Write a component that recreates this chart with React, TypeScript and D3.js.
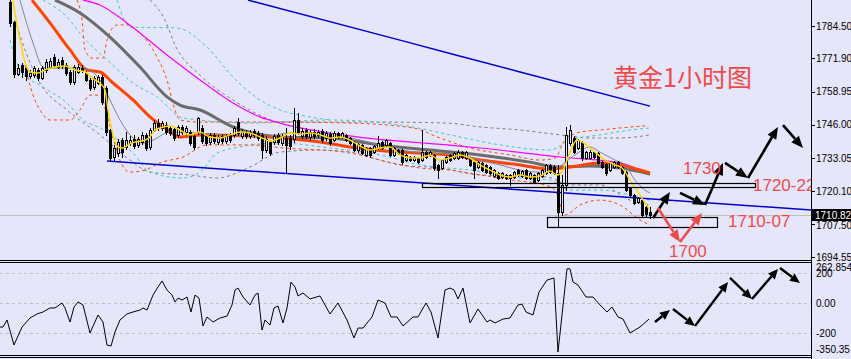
import React from "react";
import * as d3 from "d3";

// ---------- DATA ----------
// OHLC per hourly candle: [open, high, low, close]
const ohlc: [number, number, number, number][] = [
  [1794.0, 1796.0, 1784.5, 1785.7], [1786.0, 1786.5, 1764.5, 1765.7], [1765.7, 1769.7, 1765.4, 1768.0], [1769.3, 1770.1, 1764.6, 1766.6],
  [1768.1, 1769.0, 1763.5, 1765.0], [1765.0, 1767.4, 1764.2, 1766.2], [1765.4, 1769.0, 1764.8, 1768.1], [1767.4, 1768.1, 1763.5, 1764.3],
  [1764.3, 1769.0, 1763.9, 1768.1], [1767.4, 1771.6, 1766.6, 1770.5], [1768.5, 1772.0, 1768.0, 1770.9], [1772.4, 1773.6, 1768.5, 1769.3],
  [1768.5, 1771.6, 1768.0, 1770.5], [1771.3, 1772.4, 1768.1, 1768.9], [1769.3, 1770.1, 1765.4, 1766.2], [1766.6, 1767.4, 1762.0, 1762.7],
  [1762.7, 1769.3, 1762.0, 1768.5], [1766.6, 1769.7, 1766.2, 1768.5], [1768.1, 1769.3, 1766.6, 1767.4], [1766.2, 1767.0, 1763.0, 1763.5],
  [1763.5, 1764.3, 1759.6, 1760.4], [1760.7, 1765.0, 1760.0, 1764.3], [1762.3, 1765.4, 1762.0, 1764.6], [1764.6, 1765.4, 1754.0, 1754.9],
  [1760.4, 1761.0, 1742.0, 1743.2], [1744.0, 1744.5, 1732.3, 1733.1], [1733.5, 1738.0, 1732.5, 1737.0], [1735.0, 1740.5, 1734.0, 1739.3],
  [1740.1, 1741.0, 1733.5, 1735.4], [1737.4, 1743.2, 1736.6, 1740.1], [1738.9, 1741.6, 1738.0, 1740.1], [1740.5, 1742.0, 1737.0, 1737.8],
  [1738.2, 1741.2, 1737.4, 1740.5], [1739.3, 1743.2, 1738.5, 1742.0], [1742.0, 1743.0, 1736.2, 1737.0], [1737.4, 1744.8, 1736.6, 1744.0],
  [1744.0, 1747.9, 1743.6, 1746.7], [1746.7, 1748.3, 1744.0, 1745.0], [1744.8, 1747.5, 1744.0, 1746.7], [1745.9, 1747.1, 1742.4, 1743.2],
  [1744.8, 1745.5, 1742.0, 1742.8], [1744.4, 1745.2, 1740.1, 1740.9], [1742.0, 1746.0, 1741.2, 1745.2], [1745.2, 1746.0, 1742.4, 1743.2],
  [1743.2, 1745.6, 1742.4, 1744.8], [1743.2, 1744.0, 1738.0, 1738.9], [1741.6, 1742.4, 1736.6, 1737.4], [1743.2, 1749.1, 1742.4, 1748.7],
  [1744.8, 1746.0, 1739.0, 1739.7], [1741.6, 1742.4, 1738.0, 1738.9], [1739.3, 1742.8, 1738.5, 1742.0], [1742.0, 1742.8, 1738.9, 1739.7],
  [1739.3, 1742.0, 1738.5, 1741.2], [1741.6, 1742.4, 1739.0, 1739.7], [1739.7, 1742.4, 1739.0, 1741.6], [1742.0, 1743.0, 1739.3, 1740.1],
  [1742.0, 1745.5, 1741.2, 1744.8], [1747.1, 1748.7, 1742.0, 1742.8], [1741.6, 1744.4, 1740.9, 1743.2], [1743.2, 1744.0, 1741.0, 1741.6],
  [1741.6, 1744.0, 1741.0, 1743.2], [1743.6, 1744.4, 1741.2, 1742.0], [1742.8, 1743.6, 1740.1, 1740.9], [1742.0, 1742.8, 1733.1, 1736.2],
  [1736.2, 1741.6, 1735.4, 1740.5], [1739.3, 1740.1, 1734.3, 1735.0], [1739.3, 1742.4, 1738.5, 1741.6], [1742.0, 1742.8, 1738.5, 1739.3],
  [1738.9, 1742.4, 1738.0, 1741.6], [1740.9, 1744.8, 1727.6, 1738.2], [1740.9, 1742.0, 1736.6, 1737.8], [1740.5, 1752.6, 1739.3, 1747.9],
  [1747.9, 1750.6, 1742.4, 1743.2], [1741.6, 1744.8, 1740.9, 1743.6], [1744.0, 1744.8, 1740.9, 1741.6], [1741.2, 1744.0, 1740.1, 1743.2],
  [1743.2, 1744.4, 1740.9, 1741.6], [1742.0, 1744.0, 1741.2, 1743.2], [1743.6, 1744.4, 1739.3, 1740.1], [1740.9, 1743.6, 1740.1, 1742.8],
  [1742.4, 1743.2, 1738.2, 1738.9], [1740.1, 1743.6, 1739.7, 1742.8], [1742.8, 1743.2, 1740.9, 1741.3], [1741.3, 1743.2, 1740.9, 1742.8],
  [1742.1, 1742.5, 1739.7, 1740.1], [1740.9, 1741.3, 1738.6, 1738.9], [1739.3, 1739.7, 1735.8, 1736.2], [1736.2, 1738.9, 1735.4, 1738.6],
  [1738.2, 1738.6, 1734.7, 1735.0], [1734.3, 1737.4, 1733.9, 1737.0], [1737.0, 1737.4, 1733.5, 1734.3], [1735.4, 1738.2, 1735.0, 1737.8],
  [1737.0, 1741.7, 1736.6, 1738.9], [1739.3, 1739.7, 1736.6, 1737.0], [1738.2, 1740.5, 1737.8, 1740.1], [1738.9, 1739.3, 1733.9, 1734.3],
  [1734.3, 1737.4, 1733.9, 1737.0], [1736.2, 1736.6, 1734.7, 1735.0], [1736.2, 1736.6, 1730.8, 1731.5], [1732.3, 1734.7, 1731.9, 1734.3],
  [1733.5, 1733.9, 1731.9, 1732.3], [1732.3, 1733.9, 1731.9, 1733.5], [1733.1, 1733.5, 1731.2, 1731.5], [1732.3, 1744.0, 1731.9, 1735.4],
  [1735.4, 1735.8, 1733.1, 1733.5], [1734.3, 1735.8, 1733.9, 1735.4], [1734.3, 1734.7, 1728.4, 1729.2], [1730.4, 1730.8, 1725.3, 1728.4],
  [1729.2, 1732.7, 1728.8, 1732.3], [1731.5, 1733.9, 1731.2, 1733.5], [1734.3, 1734.7, 1731.9, 1732.3], [1733.1, 1735.4, 1732.7, 1735.0],
  [1733.1, 1736.2, 1732.7, 1735.4], [1735.4, 1735.8, 1733.1, 1733.5], [1733.1, 1735.8, 1732.7, 1735.4], [1733.1, 1733.5, 1730.0, 1730.4],
  [1731.5, 1731.9, 1725.3, 1728.4], [1729.6, 1731.9, 1729.2, 1731.5], [1731.2, 1731.5, 1728.0, 1728.4], [1730.4, 1730.8, 1727.3, 1727.6],
  [1729.6, 1730.0, 1726.9, 1727.3], [1726.1, 1728.8, 1725.7, 1728.4], [1727.3, 1727.6, 1724.9, 1725.3], [1725.7, 1727.6, 1725.3, 1727.3],
  [1726.5, 1726.9, 1724.9, 1725.3], [1725.3, 1726.9, 1722.6, 1726.5], [1725.7, 1728.0, 1725.3, 1727.6], [1728.4, 1728.8, 1726.1, 1726.5],
  [1726.1, 1728.4, 1725.7, 1728.0], [1728.4, 1728.8, 1724.9, 1725.3], [1725.3, 1727.6, 1724.9, 1727.3], [1726.5, 1726.9, 1723.4, 1723.7],
  [1724.5, 1727.6, 1724.1, 1727.3], [1726.1, 1728.8, 1725.7, 1728.4], [1727.3, 1730.8, 1726.9, 1730.4], [1730.4, 1730.8, 1727.3, 1727.6],
  [1729.6, 1730.4, 1726.9, 1727.3], [1727.3, 1730.4, 1706.2, 1712.1], [1712.1, 1726.5, 1710.9, 1722.6], [1722.6, 1745.2, 1720.6, 1742.1],
  [1738.9, 1745.9, 1738.2, 1744.0], [1740.9, 1741.7, 1735.0, 1735.4], [1737.0, 1740.5, 1736.6, 1740.1], [1739.3, 1739.7, 1732.3, 1733.1],
  [1733.1, 1735.8, 1732.7, 1735.4], [1733.1, 1736.2, 1732.7, 1735.4], [1735.4, 1735.8, 1733.1, 1733.5], [1735.0, 1735.4, 1730.8, 1731.2],
  [1731.5, 1731.9, 1729.2, 1729.6], [1730.8, 1731.2, 1726.5, 1727.3], [1728.4, 1731.5, 1728.0, 1731.2], [1729.6, 1731.9, 1729.2, 1731.5],
  [1731.5, 1731.9, 1729.2, 1729.6], [1729.6, 1730.0, 1726.9, 1727.3], [1727.6, 1728.0, 1720.3, 1720.6], [1721.4, 1721.8, 1718.3, 1718.7],
  [1718.7, 1719.1, 1715.2, 1715.6], [1716.0, 1717.9, 1715.6, 1717.5], [1716.7, 1717.1, 1710.5, 1710.9], [1714.0, 1714.4, 1710.5, 1711.3],
  [1712.1, 1714.0, 1709.7, 1710.82],
];

// Moving averages, read as [candle index, price]
const maYellow: [number, number][] = [
  [0.7, 1794.6], [2.5, 1779.0], [3.75, 1770.5], [5, 1766.6], [7, 1766.2], [8.75, 1767.4], [11.25, 1768.5], [13.75, 1768.9],
  [16.25, 1767.4], [18.75, 1766.6], [21.25, 1763.5], [22.5, 1762.3], [23.75, 1759.6], [24.5, 1751.8], [25.75, 1742.1], [27, 1737.4],
  [28.25, 1737.0], [29.5, 1738.2], [31.25, 1739.3], [33.75, 1740.1], [35, 1741.3], [36.25, 1744.0], [37.5, 1744.8], [40, 1745.6],
  [42.5, 1744.0], [45, 1742.1], [47.5, 1743.2], [50, 1741.3], [52.5, 1740.9], [55, 1742.1], [57.5, 1743.2], [60, 1742.8],
  [62.5, 1741.3], [65, 1739.7], [67.5, 1740.9], [70, 1742.8], [72.5, 1742.4], [75, 1742.8], [77.5, 1742.1], [80, 1740.9],
  [82.5, 1741.3], [85, 1740.1], [87.5, 1737.8], [90, 1736.2], [92.5, 1737.0], [95, 1737.4], [97.5, 1734.3], [100, 1733.1],
  [102.5, 1733.1], [105, 1734.3], [107.5, 1732.3], [110, 1733.1], [112.5, 1734.3], [115, 1733.1], [117.5, 1730.4], [120, 1728.4],
  [122.5, 1726.5], [125, 1725.7], [127.5, 1726.5], [130, 1725.7], [132.5, 1726.1], [135, 1728.0], [136.75, 1726.5], [138.25, 1728.4],
  [140, 1735.4], [141.75, 1740.1], [143.75, 1738.6], [146.25, 1735.4], [148.75, 1732.3], [151.25, 1730.4], [153, 1729.2], [155, 1724.5],
  [157, 1719.9], [158.75, 1715.6], [160, 1712.9],
];
const maSlate: [number, number][] = [
  [2.5, 1794.6], [5.75, 1777.9], [8.25, 1768.5], [10, 1768.1], [18.25, 1768.1], [22.5, 1763.5], [25, 1755.7], [27.5, 1747.9],
  [30.75, 1740.9], [33.25, 1738.9], [35.75, 1740.1], [40, 1743.2], [47.5, 1742.8], [57.5, 1741.7], [63, 1741.3], [70, 1742.8],
  [80, 1742.4], [87.5, 1740.1], [97.5, 1736.2], [105, 1735.0], [112.5, 1734.3], [117.5, 1732.3], [122.5, 1730.4], [127.5, 1728.4],
  [132.5, 1727.6], [136.75, 1729.2], [141.25, 1734.3], [145, 1737.4], [147.5, 1735.4], [151.25, 1732.3], [153.75, 1730.4],
  [156.25, 1724.5], [158.75, 1720.6], [160, 1719.5],
];
const maOrange: [number, number][] = [
  [5.5, 1794.6], [10, 1785.7], [15, 1775.2], [19.25, 1767.4], [22.5, 1766.6], [25.75, 1762.3], [30.75, 1755.7], [35, 1749.1],
  [38.75, 1744.8], [42.5, 1741.3], [47.5, 1742.1], [60, 1741.7], [67.5, 1740.9], [77.5, 1739.3], [85, 1737.4], [97.5, 1735.4],
  [110, 1734.3], [117.5, 1732.3], [127.5, 1730.4], [135, 1728.8], [140, 1729.6], [147.5, 1731.2], [152.5, 1730.4], [157.5, 1728.4],
  [160, 1727.3],
];
const maDarkGray: [number, number][] = [
  [11.25, 1794.6], [17.5, 1789.6], [25, 1780.2], [32.5, 1768.5], [39.25, 1756.9], [42.5, 1753.7], [47.5, 1751.8], [55.75, 1745.2],
  [60.75, 1742.8], [67.5, 1741.3], [80, 1740.9], [92.5, 1738.2], [105, 1736.2], [117.5, 1734.3], [130, 1731.5], [136.75, 1729.6],
  [145, 1730.0], [152.5, 1729.2], [160, 1726.9],
];
const maMagenta: [number, number][] = [
  [18.25, 1794.6], [22.5, 1792.7], [29.25, 1785.7], [39.25, 1773.2], [47.5, 1763.5], [55.75, 1754.5], [62.5, 1749.1], [67.5, 1746.7],
  [86.75, 1741.3], [109.25, 1738.2], [117.5, 1737.0], [137.5, 1733.5], [152.5, 1731.2], [160, 1726.5],
];
const maBlue: [number, number][] = [[59.5, 1794.6], [97.5, 1779.0], [127.5, 1766.6], [160, 1753.3]];

// Bollinger-style envelopes (dashed)
const bandOrangeUp: [number, number][] = [
  [16.75, 1794.6], [18, 1786.8], [18.75, 1775.2], [20.5, 1772.0], [23.25, 1772.0], [24.25, 1779.0], [26.75, 1784.9], [29.25, 1784.9],
  [32.5, 1781.8], [36.75, 1772.4], [39.25, 1763.5], [41.25, 1751.8], [42.5, 1747.9], [47.5, 1747.1], [67.5, 1747.1], [85, 1746.7],
  [100.75, 1744.8], [107.5, 1740.9], [115, 1737.0], [125, 1734.3], [132.5, 1732.3], [136.25, 1733.1], [138.75, 1740.1], [142.5, 1743.2],
  [147.5, 1744.0], [152.5, 1744.8], [158.75, 1745.6],
];
const bandOrangeLow: [number, number][] = [
  [3.75, 1769.3], [5.75, 1757.6], [7.5, 1751.8], [10, 1747.9], [15, 1747.9], [17.5, 1751.8], [20, 1757.6], [22.5, 1757.6],
  [24.25, 1749.8], [26.25, 1738.2], [28, 1730.4], [30, 1727.6], [33.75, 1728.4], [37.5, 1731.2], [43.25, 1733.5], [49.25, 1738.2],
  [60, 1738.2], [68.25, 1737.0], [77.5, 1736.2], [85, 1735.4], [92.5, 1732.3], [102.5, 1729.2], [110, 1728.4], [117.5, 1726.5],
  [125.75, 1724.5], [133.75, 1722.6], [136.25, 1720.6], [138.75, 1710.9], [142.5, 1714.8], [147.5, 1716.7], [152.5, 1714.8],
  [157.5, 1709.0], [160, 1707.0],
];
const bandCyanUpA: [number, number][] = [
  [8.25, 1794.6], [14.25, 1788.0], [18.25, 1780.2], [24.25, 1771.3], [30.75, 1762.3], [36.75, 1756.9], [43.25, 1748.7], [60, 1746.7],
  [80, 1747.9], [97.5, 1746.0], [110, 1742.1], [122.5, 1738.2], [135, 1736.2], [140, 1740.1], [147.5, 1742.1], [155, 1744.0], [160, 1744.8],
];
const bandCyanUpB: [number, number][] = [
  [26.75, 1794.6], [30, 1784.1], [41.75, 1783.7], [49.25, 1776.3], [55.75, 1764.6], [62.5, 1755.7], [67.5, 1751.8], [75, 1749.1], [80, 1747.9],
];
const bandCyanLow: [number, number][] = [
  [0, 1779.0], [2.5, 1767.4], [8.25, 1760.7], [14.25, 1754.5], [18.25, 1747.9], [22.5, 1744.8], [30.75, 1735.0], [35, 1727.6],
  [43.25, 1725.3], [47.5, 1727.6], [51.75, 1735.0], [57.5, 1737.4], [67.5, 1738.9], [80, 1737.0], [92.5, 1734.3], [102.5, 1730.4],
  [115, 1728.4], [127.5, 1725.3], [135, 1724.5], [140, 1720.6], [147.5, 1720.6], [155, 1718.7], [160, 1716.7],
];
const bandGrayUp: [number, number][] = [
  [35, 1794.6], [38.75, 1786.8], [41.25, 1777.1], [47.5, 1765.4], [55.75, 1755.7], [62.5, 1749.8], [67.5, 1747.1], [80, 1747.1],
  [92.5, 1747.1], [109.25, 1746.7], [117.5, 1745.2], [127.5, 1744.0], [137.5, 1742.1], [145, 1740.9], [152.5, 1740.9], [160, 1742.1],
];
const bandGrayLow: [number, number][] = [
  [1.25, 1786.8], [3.75, 1775.2], [7.5, 1762.3], [14.25, 1751.8], [22.5, 1742.1], [30, 1732.3], [35, 1727.6], [45, 1726.5],
  [51.75, 1725.3], [60, 1729.6], [67.5, 1735.4], [77.5, 1736.2], [87.5, 1734.3], [97.5, 1730.4], [107.5, 1729.2], [117.5, 1726.5],
  [134.25, 1725.7], [140, 1722.6], [147.5, 1722.6], [155, 1716.7], [160, 1714.8],
];

// Trend line (index, price)
const trendLine: [number, number][] = [[24.25, 1731.9], [200.25, 1712.85]];
// Support / resistance boxes: [fromIndex, toIndex, lowPrice, highPrice]
const zoneBoxes: [number, number, number, number][] = [
  [103, 186.25, 1722.0, 1723.4],
  [134.25, 176.75, 1706.2, 1710.1],
];
// Forecast arrows in price space: [i1, p1, i2, p2, colour]
const priceArrows: [number, number, number, number, string][] = [
  [160.75, 1709.7, 165, 1719.9, "black"],
  [162, 1713.6, 167.5, 1700.4, "red"],
  [167.5, 1700.4, 173, 1711.7, "red"],
  [167.5, 1719.5, 173.75, 1714.8, "black"],
  [173.75, 1714.8, 178.25, 1731.2, "black"],
  [178.75, 1731.2, 184.5, 1725.3, "black"],
  [184.5, 1725.3, 192, 1745.2, "black"],
  [193.25, 1745.9, 198.25, 1737.0, "black"],
];
// Level labels: [text, index, price]
const levelLabels: [string, number, number][] = [
  ["1730", 168.25, 1726.9],
  ["1720-22", 185.75, 1720.2],
  ["1710-07", 179.5, 1706.2],
  ["1700", 164.75, 1694.5],
];

// Oscillator (CCI) values: [index, value]
const cci: [number, number][] = [
  [-2.5, -158], [-1.75, -158], [-0.75, -111], [1, -278], [3, -158], [5, -98], [6.75, -71], [8.25, -58], [10, -31], [11.25, -31],
  [13, 2], [13.75, -31], [15, -125], [16, -25], [17, 9], [18.25, -11], [20, -198], [22, -78], [23.25, -125], [24.25, -278],
  [25.25, -285], [26.25, -191], [27.5, -111], [29.25, -71], [30.75, -58], [32.5, -45], [33.25, -31], [34.25, -45], [35.75, 55],
  [37, 109], [38, 149], [39.25, 89], [40.5, 55], [41.25, 9], [42, 35], [43, 22], [44.25, 42], [45.25, -58], [46.25, 55],
  [47.25, 35], [48.25, -151], [49.25, -91], [50.75, -125], [52.5, -98], [54.25, -85], [55.5, -11], [56.25, 89], [57, 102],
  [58.25, 42], [60, -11], [61.25, 55], [62, 69], [63, -178], [63.75, -111], [65, -145], [66, -31], [67, -18], [68.25, -131],
  [69.25, -31], [70.25, 142], [71.25, 109], [72, 49], [73.25, 69], [75, 29], [77.5, 49], [80, -71], [82, 2], [84.25, -111],
  [86, -231], [87, -165], [88.25, -165], [90.5, -91], [92, 22], [93.75, 2], [95.25, -91], [96.75, -91], [98.25, -151],
  [100.75, -91], [102, -91], [104, 2], [105.25, -58], [107, -231], [108.75, 89], [110, 102], [111, 89], [112, 29], [113.25, 102],
  [115, -131], [117, -38], [119.25, -125], [120, -111], [121.25, -131], [123.25, -105], [125, -98], [127, -11], [128, -5],
  [129, -58], [130.75, -78], [132.25, 75], [134.25, 155], [136, 169], [137, -325], [139.25, 230], [140, 230], [140.75, 142],
  [142, 122], [144, 42], [145.75, 42], [147.5, -11], [149.25, -58], [150.5, -25], [152, -91], [153.25, -105], [155, -198],
  [157.5, -158], [159.75, -105],
];
const cciArrows: [number, number, number, number][] = [
  [161.25, -125, 165, -45],
  [165.75, -38, 171.25, -151],
  [171.25, -151, 179.5, 142],
  [180, 169, 185.5, 29],
  [185.5, 29, 192, 229],
  [192.5, 235, 197.5, 135],
];

const priceTicks = [1784.5, 1771.9, 1758.95, 1746.0, 1733.05, 1720.1, 1707.5, 1694.55];
const cciTicks = [200, 0, -200];
const cciMax = 262.8544;
const cciMin = -350.35;
const lastPrice = 1710.82;
const title = "黄金1小时图";

// ---------- CHART ----------
const W = 851;
const H = 359;
const AX = 811;
const BG = "#E6E6FA";
const RED = "#EF4B4B";

function Arrow({ x1, y1, x2, y2, color, w, hl, hw }: any) {
  const a = Math.atan2(y2 - y1, x2 - x1);
  const bx = x2 - hl * Math.cos(a);
  const by = y2 - hl * Math.sin(a);
  const px = Math.sin(a) * hw;
  const py = -Math.cos(a) * hw;
  return (
    <g>
      <line x1={x1} y1={y1} x2={bx} y2={by} stroke={color} strokeWidth={w} />
      <polygon points={`${x2},${y2} ${bx + px},${by + py} ${bx - px},${by - py}`} fill={color} />
    </g>
  );
}

export default function App() {
  const x = d3.scaleLinear().domain([0, 160]).range([10, 650]);
  const y = d3.scaleLinear().domain([1694.55, 1784.5]).range([257, 26]);
  const yc = d3.scaleLinear().domain([cciMin, cciMax]).range([355.85, 263.9]);

  const smooth = d3
    .line<[number, number]>()
    .x((d) => x(d[0]))
    .y((d) => y(d[1]))
    .curve(d3.curveMonotoneX);
  const straight = d3
    .line<[number, number]>()
    .x((d) => x(d[0]))
    .y((d) => y(d[1]));
  const cciLine = d3
    .line<[number, number]>()
    .x((d) => x(d[0]))
    .y((d) => yc(d[1]));

  const font = "'Liberation Sans', Arial, sans-serif";

  return (
    <svg
      width={W}
      height={H}
      style={{ position: "absolute", left: 0, top: 0, display: "block" }}
      xmlns="http://www.w3.org/2000/svg"
    >
      <defs>
        <clipPath id="mainClip">
          <rect x={0} y={0} width={AX} height={259} />
        </clipPath>
        <clipPath id="subClip">
          <rect x={0} y={263} width={AX} height={92} />
        </clipPath>
      </defs>
      <rect x={0} y={0} width={W} height={H} fill={BG} />

      <g clipPath="url(#mainClip)">
        {/* current price line */}
        <line x1={0} x2={AX} y1={Math.round(y(lastPrice)) + 0.5} y2={Math.round(y(lastPrice)) + 0.5} stroke="#C0C0C0" />
        {/* dashed envelopes */}
        {[
          [bandGrayUp, "#7f7f7f"],
          [bandGrayLow, "#7f7f7f"],
          [bandCyanUpA, "#3CC8C8"],
          [bandCyanUpB, "#3CC8C8"],
          [bandCyanLow, "#3CC8C8"],
          [bandOrangeUp, "#FF4500"],
          [bandOrangeLow, "#FF4500"],
        ].map(([d, c], i) => (
          <path key={"b" + i} d={smooth(d as any) || ""} fill="none" stroke={c as string} strokeWidth={1} strokeDasharray="3,3" />
        ))}
        {/* trend line */}
        <path d={straight(trendLine) || ""} fill="none" stroke="#0000CD" strokeWidth={1.5} />
        {/* moving averages */}
        <path d={smooth(maBlue) || ""} fill="none" stroke="#0000CD" strokeWidth={1.5} />
        <path d={smooth(maMagenta) || ""} fill="none" stroke="#FF00FF" strokeWidth={1.2} />
        <path d={smooth(maDarkGray) || ""} fill="none" stroke="#6B6B6B" strokeWidth={3} />
        <path d={smooth(maOrange) || ""} fill="none" stroke="#FF4500" strokeWidth={3} />
        <path d={smooth(maSlate) || ""} fill="none" stroke="#7A8696" strokeWidth={1} />

        {/* candles */}
        {ohlc.map(([o, h, l, c], i) => {
          const cx = Math.round(x(i));
          const top = Math.round(y(Math.max(o, c)));
          const bot = Math.round(y(Math.min(o, c)));
          const bull = c >= o;
          return (
            <g key={"c" + i}>
              <line x1={cx + 0.5} x2={cx + 0.5} y1={Math.round(y(h))} y2={Math.round(y(l)) + 1} stroke="black" strokeWidth={1} />
              {bull ? (
                <rect x={cx - 0.5} y={top + 0.5} width={2} height={Math.max(bot - top, 1)} fill={BG} stroke="black" strokeWidth={1} />
              ) : (
                <rect x={cx - 1} y={top} width={3} height={Math.max(bot - top, 1) + 1} fill="black" />
              )}
            </g>
          );
        })}
        <path d={smooth(maYellow) || ""} fill="none" stroke="#FFD700" strokeWidth={1.5} />

        {/* zone boxes */}
        {zoneBoxes.map(([i1, i2, p1, p2], k) => (
          <rect
            key={"z" + k}
            x={Math.round(x(i1)) + 0.5}
            y={Math.round(y(p2)) + 0.5}
            width={Math.round(x(i2) - x(i1))}
            height={Math.round(y(p1) - y(p2))}
            fill="none"
            stroke="black"
            strokeWidth={1.2}
          />
        ))}

        {/* forecast arrows */}
        {priceArrows.map(([i1, p1, i2, p2, col], k) => (
          <Arrow
            key={"a" + k}
            x1={x(i1)}
            y1={y(p1)}
            x2={x(i2)}
            y2={y(p2)}
            color={col === "red" ? RED : "black"}
            w={2.6}
            hl={12}
            hw={5}
          />
        ))}

        {/* labels */}
        {levelLabels.map(([t, i, p], k) => (
          <text key={"l" + k} x={x(i)} y={y(p)} fill={RED} fontSize={17} fontFamily={font}>
            {t}
          </text>
        ))}
        <text x={613} y={87} fill={RED} fontSize={25} fontFamily="'Noto Sans CJK SC', sans-serif">
          {title}
        </text>
      </g>

      {/* sub panel */}
      {cciTicks.map((v) => (
        <line key={"g" + v} x1={0} x2={AX} y1={Math.round(yc(v)) + 0.5} y2={Math.round(yc(v)) + 0.5} stroke="#C0C0C0" strokeDasharray="3,3" />
      ))}
      <g clipPath="url(#subClip)">
        <path d={cciLine(cci) || ""} fill="none" stroke="black" strokeWidth={1} />
        {cciArrows.map(([i1, v1, i2, v2], k) => (
          <Arrow key={"s" + k} x1={x(i1)} y1={yc(v1)} x2={x(i2)} y2={yc(v2)} color="black" w={2.4} hl={10} hw={4.5} />
        ))}
      </g>

      {/* frames */}
      <line x1={0} x2={AX} y1={260.5} y2={260.5} stroke="black" />
      <line x1={0} x2={AX} y1={262.5} y2={262.5} stroke="black" />
      <line x1={0} x2={AX} y1={355.5} y2={355.5} stroke="black" />
      <line x1={0} x2={AX} y1={357.5} y2={357.5} stroke="black" />
      <line x1={AX + 0.5} x2={AX + 0.5} y1={0} y2={H} stroke="black" />

      {/* price axis */}
      {priceTicks.map((p) => (
        <g key={"t" + p}>
          <line x1={AX} x2={AX + 4} y1={Math.round(y(p)) + 0.5} y2={Math.round(y(p)) + 0.5} stroke="black" />
          <text x={816} y={y(p) + (p === 1707.5 ? 2 : 0)} dy="0.35em" fontSize={10} fontFamily={font} fill="black">
            {p.toFixed(2)}
          </text>
        </g>
      ))}
      <rect x={812} y={Math.round(y(lastPrice)) - 6} width={39} height={12} fill="black" />
      <text x={815} y={y(lastPrice)} dy="0.35em" fontSize={10} fontFamily={font} fill="white">
        {lastPrice.toFixed(2)}
      </text>

      {/* oscillator axis */}
      <text x={816} y={yc(cciMax) + 4} dy="0.35em" fontSize={10} fontFamily={font} fill="black">
        {cciMax.toFixed(4)}
      </text>
      {cciTicks.map((v) => (
        <text key={"ct" + v} x={816} y={yc(v) + 0.5} dy="0.35em" fontSize={10} fontFamily={font} fill="black">
          {v === 0 ? "0.00" : String(v)}
        </text>
      ))}
      <text x={816} y={yc(cciMin) - 6} dy="0.35em" fontSize={10} fontFamily={font} fill="black">
        {cciMin.toFixed(2)}
      </text>
    </svg>
  );
}
